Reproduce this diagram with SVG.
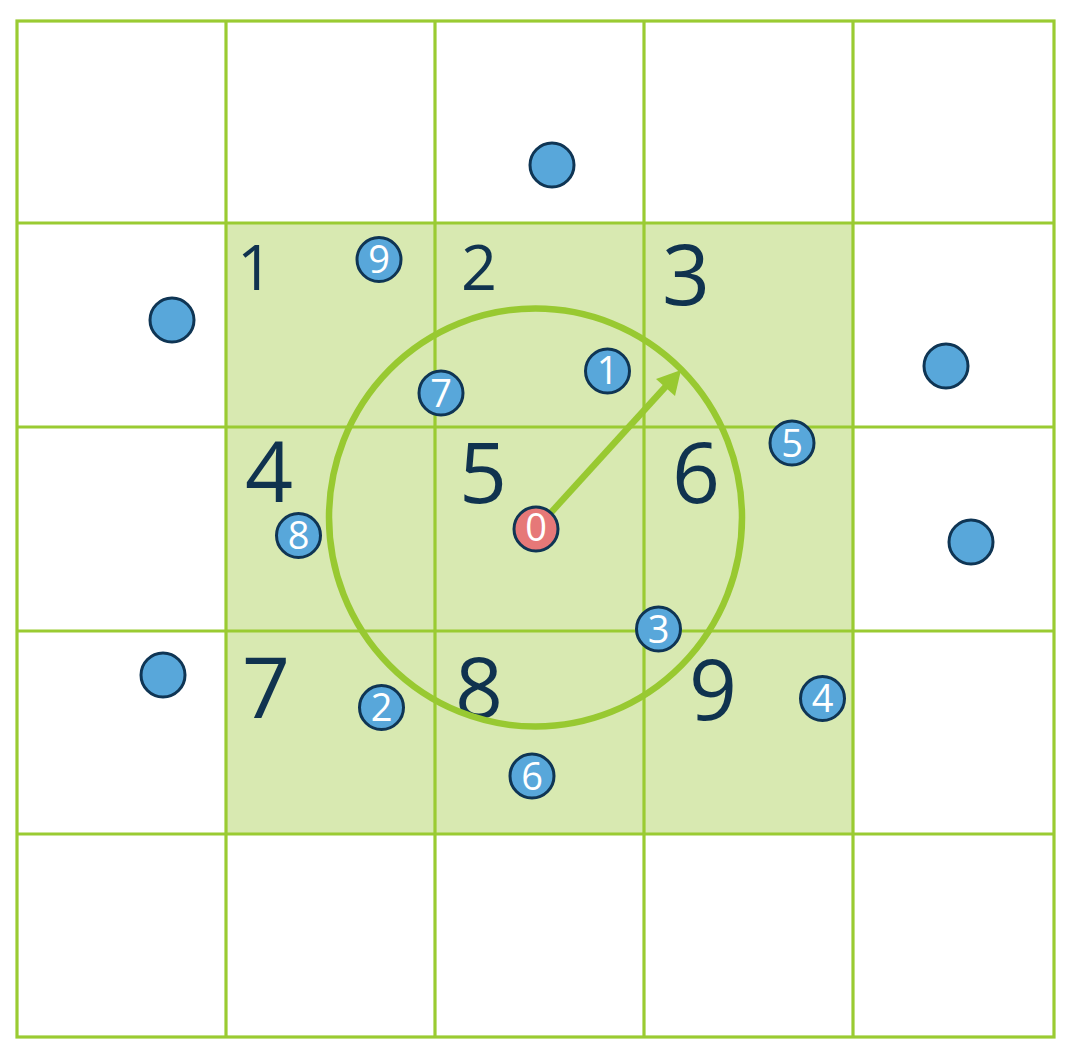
<svg xmlns="http://www.w3.org/2000/svg" width="1068" height="1056" viewBox="0 0 1068 1056">
<defs>
<style>
.grid{stroke:#9acb32;stroke-width:3.2;fill:none}
.ring{stroke:#98c931;stroke-width:6.5;fill:none}
.pt{fill:#58a7da;stroke:#0f3554;stroke-width:3}
.org{fill:#e67878;stroke:#0f3554;stroke-width:3}
.big{font-family:"Open Sans","Noto Sans",sans-serif;fill:#10334f;text-anchor:middle}
.sm{font-family:"Open Sans","Noto Sans",sans-serif;fill:#ffffff;text-anchor:middle;font-size:38px}
</style>
</defs>
<rect width="1068" height="1056" fill="#ffffff"/>
<rect id="neighborhood" x="226" y="224" width="627" height="610" fill="#d8e9b1"/>
<g id="grid" class="grid">
<rect x="17" y="21" width="1037" height="1016"/>
<line x1="226" y1="21" x2="226" y2="1037"/>
<line x1="435" y1="21" x2="435" y2="1037"/>
<line x1="644" y1="21" x2="644" y2="1037"/>
<line x1="853" y1="21" x2="853" y2="1037"/>
<line x1="17" y1="223" x2="1054" y2="223"/>
<line x1="17" y1="427" x2="1054" y2="427"/>
<line x1="17" y1="631" x2="1054" y2="631"/>
<line x1="17" y1="834" x2="1054" y2="834"/>
</g>
<g id="cell-labels" class="big">
<text x="255" y="290" font-size="63">1</text>
<text x="479" y="290" font-size="63">2</text>
<text x="686" y="305" font-size="84">3</text>
<text x="269" y="502" font-size="84">4</text>
<text x="483" y="503" font-size="84">5</text>
<text x="696" y="503" font-size="84">6</text>
<text x="266" y="718" font-size="84">7</text>
<text x="479" y="718" font-size="84">8</text>
<text x="713" y="720" font-size="84">9</text>
</g>
<ellipse id="radius-circle" class="ring" cx="535.5" cy="517.5" rx="206.5" ry="209"/>
<g id="connectors">
<line x1="536" y1="529" x2="668" y2="384" stroke="#98c931" stroke-width="6.5"/>
<polygon points="681,370 675,396 656,379" fill="#98c931"/>
</g>
<g id="p-a"><circle class="pt" cx="552" cy="165" r="22"/></g>
<g id="p-b"><circle class="pt" cx="172" cy="320" r="22"/></g>
<g id="p-c"><circle class="pt" cx="946" cy="366" r="22"/></g>
<g id="p-d"><circle class="pt" cx="971" cy="542" r="22"/></g>
<g id="p-e"><circle class="pt" cx="163" cy="675" r="22"/></g>
<g id="p9"><circle class="pt" cx="379" cy="259.5" r="22"/><text class="sm" x="379" y="273">9</text></g>
<g id="p7"><circle class="pt" cx="441" cy="393" r="22"/><text class="sm" x="441" y="407">7</text></g>
<g id="p1"><circle class="pt" cx="607.5" cy="371" r="22"/><text class="sm" x="607.5" y="384">1</text></g>
<g id="p5"><circle class="pt" cx="792" cy="443" r="22"/><text class="sm" x="792" y="457">5</text></g>
<g id="p8"><circle class="pt" cx="298.5" cy="535.5" r="22"/><text class="sm" x="298.5" y="549">8</text></g>
<g id="p0"><circle class="org" cx="536" cy="529" r="22"/><text class="sm" x="536" y="541" font-size="32">0</text></g>
<g id="p3"><circle class="pt" cx="658.5" cy="629" r="22"/><text class="sm" x="658.5" y="643">3</text></g>
<g id="p2"><circle class="pt" cx="381.5" cy="707.5" r="22"/><text class="sm" x="381.5" y="721">2</text></g>
<g id="p4"><circle class="pt" cx="822.5" cy="698.5" r="22"/><text class="sm" x="822.5" y="712">4</text></g>
<g id="p6"><circle class="pt" cx="532" cy="776" r="22"/><text class="sm" x="532" y="790">6</text></g>
</svg>
